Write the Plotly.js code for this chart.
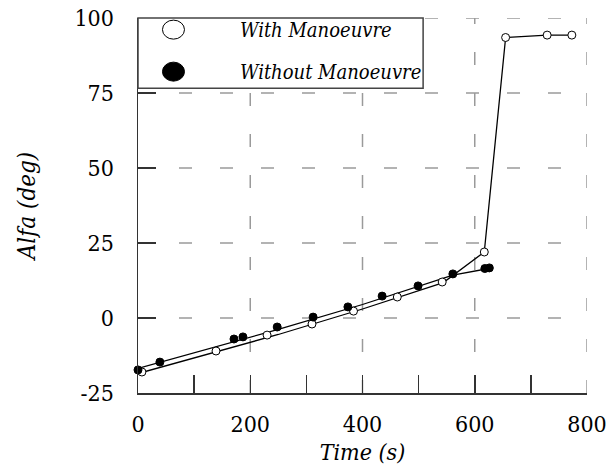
<!DOCTYPE html>
<html>
<head>
<meta charset="utf-8">
<script src="https://cdn.plot.ly/plotly-3.0.1.min.js"></script>
<style>
  html, body { margin: 0; padding: 0; background: #fff; }
  #chart { width: 609px; height: 474px; }
</style>
</head>
<body>
<div id="chart"></div>
<script>
// Measured angle of attack (deg) against time (s)
const withTime     = [7, 139, 230, 310, 384, 462, 542, 617, 655, 729, 773];
const withAlfa     = [-18, -11, -5.7, -2, 2.3, 7, 12, 22, 93.5, 94.3, 94.3];
const withoutTime  = [0, 39, 171, 187, 248, 312, 374, 435, 499, 561, 618, 626];
const withoutAlfa  = [-17.3, -14.7, -7, -6.3, -3, 0.3, 3.7, 7.3, 10.7, 14.7, 16.5, 16.7];

// Simulated curves
const withCurveTime    = [0, 250, 400, 544, 617, 655, 729, 773];
const withCurveAlfa    = [-18.5, -5.5, 3, 11.8, 22, 93.5, 94.3, 94.3];
const withoutCurveTime = [0, 250, 400, 561, 625];
const withoutCurveAlfa = [-16.8, -3.8, 4.5, 14.3, 16.5];

// Axis ticks and key labels
const xTicks = [0, 200, 400, 600, 800];
const yTicks = [-25, 0, 25, 50, 75, 100];
const seriesNames = ['With Manoeuvre', 'Without Manoeuvre'];

const serif = 'DejaVu Serif Condensed';
const gridStyle = { color: '#9a9a9a', width: 1.5, dash: '13px,28px' };

// Dashed grid drawn from the axes outward
const shapes = [];
xTicks.slice(1).forEach(v => shapes.push({
  type: 'line', xref: 'x', yref: 'y', layer: 'below',
  x0: v, x1: v, y0: yTicks[0], y1: yTicks[yTicks.length - 1], line: gridStyle
}));
yTicks.slice(1).forEach(v => shapes.push({
  type: 'line', xref: 'x', yref: 'y', layer: 'below',
  x0: xTicks[0], x1: xTicks[xTicks.length - 1], y0: v, y1: v, line: gridStyle
}));

// Key box in the upper left corner
const keyRight = 0.635, keyBottom = 0.813, keySymbolX = 0.079, keyTextX = 0.223;
const keyRowY = [0.969, 0.857];
shapes.push({
  type: 'rect', xref: 'paper', yref: 'paper', layer: 'above',
  x0: 0, x1: keyRight, y0: keyBottom, y1: 1,
  fillcolor: '#fff', line: { color: '#444', width: 1.5 }
});
const keyFill = ['#fff', '#000'];
keyRowY.forEach((ky, i) => shapes.push({
  type: 'circle', xref: 'paper', yref: 'paper', layer: 'above',
  xsizemode: 'pixel', ysizemode: 'pixel', xanchor: keySymbolX, yanchor: ky,
  x0: -11, x1: 11, y0: -9.5, y1: 9.5,
  fillcolor: keyFill[i], line: { color: '#000', width: 1 }
}));
const annotations = keyRowY.map((ky, i) => ({
  xref: 'paper', yref: 'paper', x: keyTextX, y: ky,
  xanchor: 'left', yanchor: 'middle', showarrow: false,
  text: seriesNames[i],
  font: { family: serif, size: 20, style: 'italic', color: '#000' }
}));

const traces = [
  { x: withCurveTime, y: withCurveAlfa, mode: 'lines', showlegend: false,
    line: { color: '#000', width: 1.3 }, cliponaxis: false },
  { x: withoutCurveTime, y: withoutCurveAlfa, mode: 'lines', showlegend: false,
    line: { color: '#000', width: 1.3 }, cliponaxis: false },
  { x: withTime, y: withAlfa, mode: 'markers', name: seriesNames[0], showlegend: false,
    cliponaxis: false,
    marker: { symbol: 'circle', size: 8, color: '#fff', line: { color: '#000', width: 1 } } },
  { x: withoutTime, y: withoutAlfa, mode: 'markers', name: seriesNames[1], showlegend: false,
    cliponaxis: false,
    marker: { symbol: 'circle', size: 8, color: '#000', line: { color: '#000', width: 1 } } }
];

const layout = {
  width: 609, height: 474,
  margin: { l: 138, r: 22, t: 18, b: 81 },
  paper_bgcolor: '#fff', plot_bgcolor: '#fff',
  font: { family: serif, color: '#000', size: 22 },
  showlegend: false,
  xaxis: {
    range: [0, 800], tickvals: xTicks, ticktext: xTicks.map(String),
    showgrid: false, zeroline: false,
    showline: true, linecolor: '#333', linewidth: 1.5,
    ticks: 'inside', ticklen: 18, tickcolor: '#333', tickwidth: 1.5,
    minor: { dtick: 100, ticks: 'inside', ticklen: 18, tickcolor: '#333', tickwidth: 1.5, showgrid: false },
    ticklabelstandoff: 10,
    tickfont: { family: serif, size: 23 },
    title: { text: 'Time (s)', font: { family: serif, size: 23, style: 'italic' }, standoff: 8 }
  },
  yaxis: {
    range: [-25, 100], tickvals: yTicks, ticktext: yTicks.map(String),
    showgrid: false, zeroline: false,
    showline: true, linecolor: '#333', linewidth: 1.5,
    ticks: 'inside', ticklen: 18, tickcolor: '#333', tickwidth: 1.5,
    ticklabelstandoff: 18,
    tickfont: { family: serif, size: 23 },
    title: { text: 'Alfa (deg)', font: { family: serif, size: 24, style: 'italic' }, standoff: 32 }
  },
  shapes: shapes,
  annotations: annotations
};

Plotly.newPlot('chart', traces, layout, { staticPlot: true, displayModeBar: false });
</script>
</body>
</html>
